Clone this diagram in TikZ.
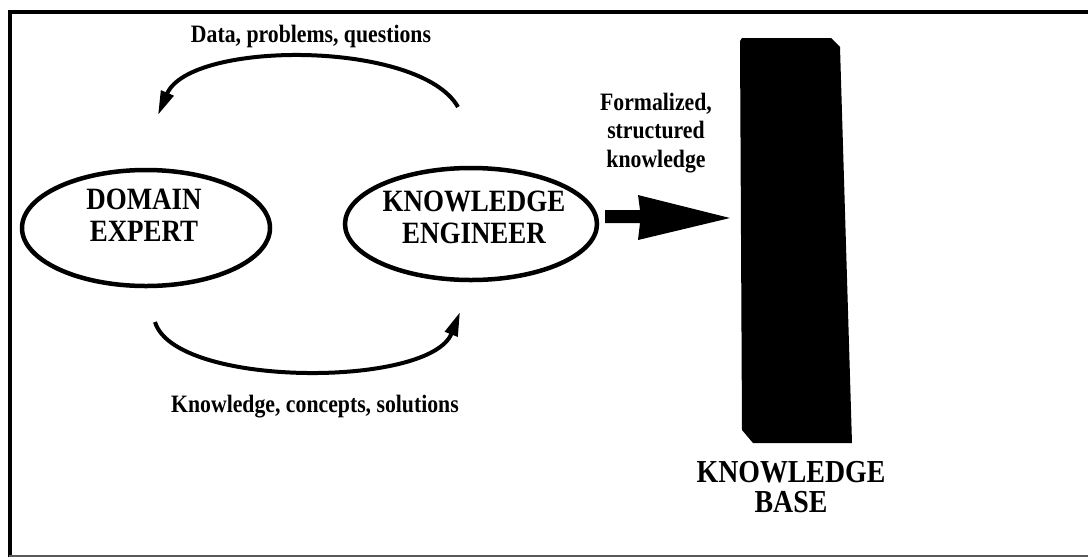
\documentclass[tikz,border=0pt]{standalone}
\usepackage{fontspec}
\setmainfont{Liberation Serif}
\newfontfamily\cf[FakeStretch=0.87]{Liberation Serif}
\usetikzlibrary{shapes.geometric,arrows.meta}
\begin{document}
\begin{tikzpicture}[x=1pt,y=-1pt,
  oval/.style={draw,ellipse,line width=4.5pt,inner sep=0pt},
  bigtxt/.style={font=\cf\bfseries\fontsize{31}{32}\selectfont,align=center,inner sep=0pt},
  smalltxt/.style={font=\cf\bfseries\fontsize{25}{28.5}\selectfont,align=center,inner sep=0pt},
  flow/.style={line width=4pt,-{Triangle[length=24pt,width=13pt]}}]
\useasboundingbox (0,0) rectangle (1088,558);
% frame
\draw[line width=4pt] (8,12) -- (1088,12);
\draw[line width=3.5pt] (10,10) -- (10,557);
\draw[line width=2pt,black!65] (9,556) -- (1088,556);
% ellipses
\node[oval,minimum width=248pt,minimum height=116pt] (de) at (146,228) {};
\node[oval,minimum width=252pt,minimum height=112pt] (ke) at (471,224) {};
\node[bigtxt] (detxt) at (144,215) {DOMAIN\\EXPERT};
\node[bigtxt] (ketxt) at (474,217) {KNOWLEDGE\\ENGINEER};
% curved arrows
\coordinate (ta) at (458,107);
\coordinate (tb) at (158,115);
\coordinate (ba) at (155,322);
\coordinate (bb) at (460,312);
\draw[flow] (ta) .. controls (420,40) and (190,40) .. (tb);
\draw[flow] (ba) .. controls (175,388) and (430,388) .. (bb);
\node[smalltxt,anchor=base] (lt) at (311,42) {Data, problems, questions};
\node[smalltxt,anchor=base] (lb) at (315,412) {Knowledge, concepts, solutions};
% knowledge base
\fill (740,41) -- (742,38) -- (831,38) -- (840,47) -- (852,443) -- (753,443) -- (742,430) -- cycle;
\coordinate (kb) at (796,240);
\node[bigtxt,font=\cf\bfseries\fontsize{32}{30}\selectfont] (kbtxt) at (791,487) {KNOWLEDGE\\BASE};
% big arrow
\fill (605,210) -- (640,210) -- (638,195) -- (730,218) -- (638,240) -- (640,223) -- (605,223) -- cycle;
\node[smalltxt] (ftxt) at (656,133) {Formalized,\\structured\\knowledge};
\end{tikzpicture}
\end{document}
